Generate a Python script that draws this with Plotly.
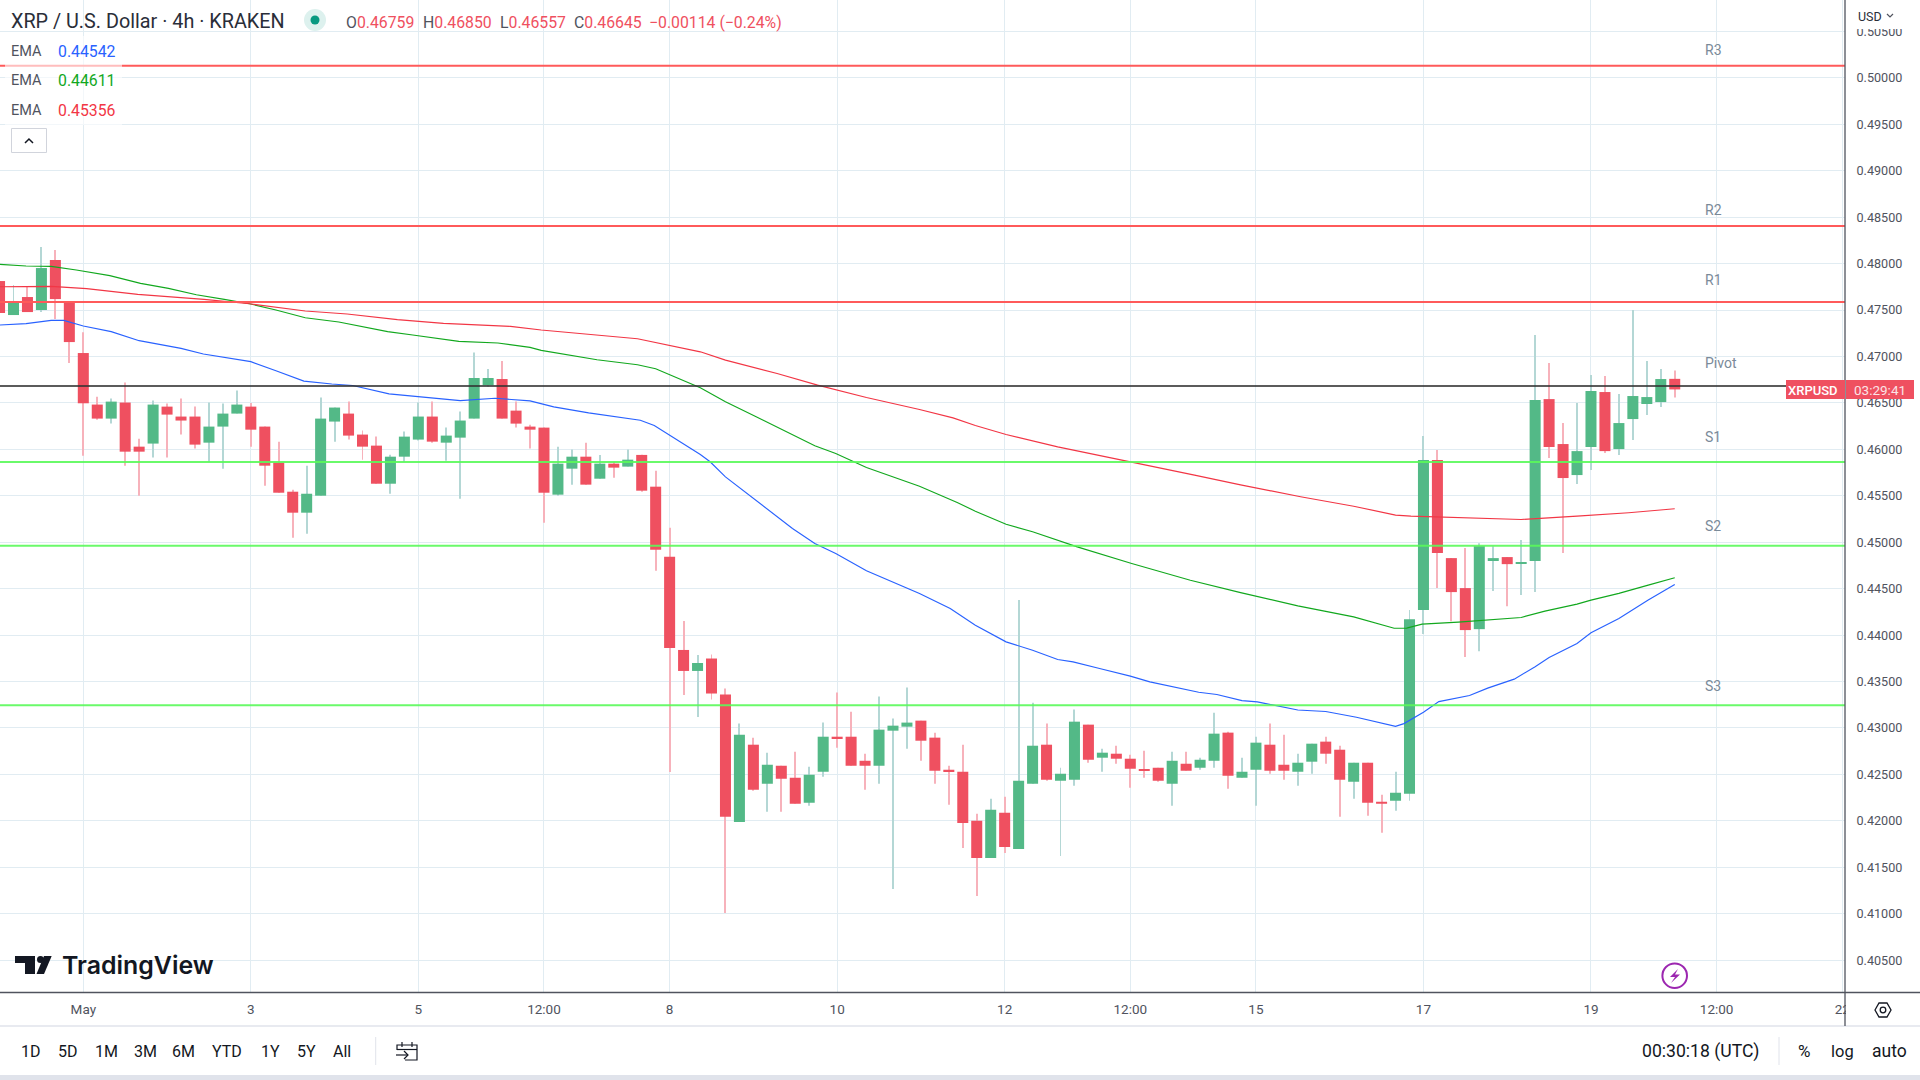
import plotly.graph_objects as go

# ---- data -----------------------------------------------------------------
first_bar = -6
opens = [.47812,.47446,.4764,.475,.48039,.47597,.47037,.46482,.46331,.46504,.46029,.46062,.4646,.46353,.46353,.46072,.46245,.46385,.4646,.46245,.45857,.45544,.45318,.45501,.46299,.46385,.46159,.4604,.4563,.45921,.46105,.46353,.46072,.46126,.46331,.46689,.46757,.46417,.46245,.46234,.45512,.45792,.45921,.45684,.45846,.45814,.4594,.45598,.44843,.4384,.43614,.43748,.4336,.41989,.4282,.42399,.42594,.42464,.42194,.42529,.42906,.42906,.42647,.42594,.42971,.43014,.43079,.42896,.4255,.42529,.42,.41601,.42086,.41698,.42399,.4282,.42432,.42442,.43036,.4268,.42723,.42669,.4255,.42572,.42399,.42615,.42572,.42647,.4295,.42464,.4255,.4282,.42604,.42529,.42637,.42853,.42766,.42421,.42626,.42205,.42216,.42291,.44269,.45884,.44829,.44506,.44064,.44808,.4484,.44775,.44797,.46541,.46057,.45723,.46025,.46617,.46003,.46326,.46488,.46509,.46759]
highs = [.47812,.47769,.47758,.48179,.48146,.47597,.4726,.46565,.46547,.46719,.46115,.46525,.46493,.46547,.4646,.46504,.46493,.46633,.465,.46245,.46083,.45566,.45824,.46558,.4645,.46514,.46202,.46137,.45943,.46191,.46504,.46514,.46234,.46407,.47044,.46865,.46951,.46514,.46266,.46234,.46029,.45998,.46072,.4594,.45867,.45998,.45943,.4577,.45156,.44153,.43787,.43791,.43424,.43047,.42896,.42734,.42594,.42745,.42583,.43058,.43381,.43176,.42723,.43338,.43101,.43435,.43079,.4295,.42594,.4282,.42076,.42237,.42259,.44377,.43273,.43047,.42572,.43198,.43036,.42777,.42809,.42712,.42755,.42572,.42745,.42745,.4268,.43165,.4296,.4268,.42906,.43047,.42928,.42723,.42831,.42906,.42809,.42626,.42626,.42281,.42529,.44269,.46143,.45992,.44829,.44937,.4499,.44958,.4484,.45023,.47231,.46929,.46283,.46498,.468,.46789,.46595,.475,.46951,.46865,.4685]
lows = [.47468,.47446,.47478,.47478,.47403,.46929,.45932,.4632,.46277,.45824,.45501,.45911,.45911,.46159,.46008,.45867,.45792,.46385,.46029,.45609,.45533,.45048,.45091,.45501,.46083,.46105,.45889,.4563,.45522,.45867,.46094,.46072,.45878,.45469,.46331,.46673,.46331,.46234,.46008,.4521,.45501,.4562,.4562,.45684,.45695,.45814,.45544,.44692,.42525,.43355,.43118,.43306,.41007,.41989,.42324,.42097,.42097,.42183,.42162,.42475,.42788,.42594,.42335,.42399,.41266,.42777,.42647,.42399,.42173,.41709,.41191,.41601,.41655,.41698,.42399,.42432,.41622,.42378,.42626,.42529,.42615,.42356,.42464,.42421,.42162,.4254,.4255,.42572,.42345,.42464,.42162,.42507,.42442,.42378,.42507,.42615,.42043,.42237,.42054,.41871,.42108,.42216,.44011,.44506,.4415,.43763,.43827,.44474,.44312,.44431,.44463,.45906,.44883,.45626,.45777,.4596,.45938,.461,.46369,.46455,.46557]
closes = [.47468,.47586,.47478,.47952,.47618,.47155,.46496,.46331,.46514,.45975,.45975,.46482,.46374,.4631,.46051,.46245,.46385,.46482,.46212,.45824,.45533,.45318,.45522,.46331,.4645,.46148,.46029,.4563,.45921,.46137,.46353,.46083,.46148,.4631,.46768,.46768,.46331,.46277,.46212,.45533,.45846,.45921,.4562,.45846,.45803,.45889,.45555,.44919,.43862,.43614,.437,.43371,.42043,.42928,.42335,.42604,.42453,.42183,.42496,.42906,.42885,.42594,.42594,.42982,.43025,.43058,.42863,.4254,.42529,.41978,.41601,.42119,.41719,.42432,.42809,.42442,.42507,.43068,.42658,.42734,.42669,.42561,.4254,.42432,.42647,.4254,.42658,.42939,.42486,.42529,.42842,.4254,.4254,.42626,.42831,.42723,.42442,.42626,.42194,.42183,.42302,.44172,.45884,.44883,.44463,.44054,.44958,.44829,.44764,.44786,.46531,.46025,.45691,.45981,.46628,.45981,.46283,.46574,.46563,.46757,.46645]

ema_blue_x = [-6,-4.1,-2.3,-1.4,0,2,4,7,8.6,12,13.8,15.8,17.8,19.3,21.9,27,29.5,32,33.7,36.2,39.9,40.9,44.2,44.9,46,48.2,50.8,52.4,53.9,56.1,59.9,62.1,63.9,66.1,68,69.8,70.9,72.8,75,76.4,79.9,81.2,83,84.1,87,89,91.2,94,94.6,96,97.1,99.3,100.6,102.5,104,105,107,108,110,112.1,114]
ema_blue_y = [.47338,.47353,.47389,.47389,.47328,.47267,.4717,.47087,.47026,.46944,.46847,.46735,.46703,.46687,.46597,.46525,.4655,.46522,.46457,.46392,.46313,.46256,.45945,.45866,.45704,.45453,.45148,.44986,.44878,.44692,.44448,.44286,.44106,.43927,.43837,.43737,.43712,.4364,.43558,.43496,.43385,.4336,.43295,.43281,.43194,.43177,.43115,.43018,.43047,.43169,.43284,.4335,.43429,.43526,.43659,.43759,.4391,.44025,.44179,.44377,.44545]
ema_green_x = [-6,-4.1,-2.3,-.5,1.9,4.1,6.1,8.1,10.1,11.9,13.8,15.9,18.3,21.8,23.6,26.9,29.7,32,32.8,36.8,39.7,41,44.2,46,48.2,50.8,52.4,53.9,56.1,59.9,62.6,63.9,66.1,68,71.2,75.1,79.3,82.9,87,91,93.9,94.8,95.9,98.5,103,104.7,107,108,110,112.1,114]
ema_green_y = [.47992,.47974,.4797,.47931,.4787,.47787,.47733,.47665,.47615,.47568,.475,.47417,.47371,.47267,.47231,.47163,.47145,.47098,.47066,.46965,.46911,.46868,.46663,.46512,.4635,.46153,.46038,.45955,.45805,.45603,.45428,.45334,.45194,.45112,.4495,.44771,.44591,.44458,.44315,.44196,.44074,.44075,.44118,.4414,.4419,.44258,.44334,.44377,.44449,.44538,.44617]
ema_red_x = [-6,-2.3,.24,3.9,8.65,11.9,15.9,18.9,22.5,25.8,30.6,32.8,39.7,44.2,46,49.7,52.6,56.1,59.9,62.3,63.9,66.1,69.8,75.1,77.1,79.6,82.9,87.2,91,94,95.1,99,103,107,110.7,114]
ema_red_y = [.47751,.47755,.4773,.47669,.47615,.47568,.47489,.47457,.47396,.47356,.47324,.47285,.47191,.4705,.46961,.46817,.46691,.46558,.46429,.46339,.46257,.4616,.46027,.45858,.45797,.45722,.45618,.4549,.45388,.45292,.45281,.4526,.45245,.45281,.45317,.4536]

pivot_names = ["R3","R2","R1","Pivot","S1","S2","S3"]
pivot_levels = [.5013,.48405,.47586,.46682,.45863,.44962,.43246]
pivot_label_y = [50,209.5,279.5,362.7,436.7,526,686]

date_ticks = [0,12,24,33,42,54,66,75,84,96,108,117,126]
date_labels = ["May","3","5","12:00","8","10","12","12:00","15","17","19","12:00","22"]
price_ticks = [.405,.41,.415,.42,.425,.43,.435,.44,.445,.45,.455,.46,.465,.47,.475,.48,.485,.49,.495,.5,.505]
price_labels = [f"{p:.5f}" for p in price_ticks]

ranges = ["1D","5D","1M","3M","6M","YTD","1Y","5Y","All"]
range_x = [21,58,95,134,172,212,261,297,333]
ema_labels = ["0.44542","0.44611","0.45356"]

# ---- styles ---------------------------------------------------------------
W, H = 1920, 1080
FIG_W = 1925
RED, GREEN = "#EF5060", "#53B987"
WICK_R, WICK_G = "#F7B2BB", "#B4D7D5"
AXIS = "#50535E"
GRID = "#E1ECF2"
FONT = "Roboto"
bars = [first_bar + k for k in range(len(opens))]
px = lambda x: x / W
py = lambda y: 1 - y / H

fig = go.Figure()
for want_up, wick, col in ((True, WICK_G, GREEN), (False, WICK_R, RED)):
    sel = [k for k in range(len(opens)) if (closes[k] >= opens[k]) == want_up]
    fig.add_trace(go.Bar(
        x=[bars[k] for k in sel],
        base=[lows[k] for k in sel],
        y=[highs[k] - lows[k] for k in sel],
        width=1 / 13.96, marker=dict(color=wick, line=dict(width=0)), hoverinfo="skip"))
for want_up, wick, col in ((True, WICK_G, GREEN), (False, WICK_R, RED)):
    sel = [k for k in range(len(opens)) if (closes[k] >= opens[k]) == want_up]
    fig.add_trace(go.Bar(
        x=[bars[k] for k in sel],
        base=[min(opens[k], closes[k]) for k in sel],
        y=[abs(closes[k] - opens[k]) for k in sel],
        width=0.79, marker=dict(color=col, line=dict(width=0)), hoverinfo="skip"))
for xs, ys, col in ((ema_blue_x, ema_blue_y, "#2962FF"),
                    (ema_green_x, ema_green_y, "#12A81E"),
                    (ema_red_x, ema_red_y, "#F23645")):
    fig.add_trace(go.Scatter(x=xs, y=ys, mode="lines", line=dict(color=col, width=1.15),
                             hoverinfo="skip"))

shapes = []
line_cols = ["#FF5A5A"] * 3 + ["rgba(50,50,50,0.8)"] + ["rgba(90,250,90,0.9)"] * 3
for lev, col in zip(pivot_levels, line_cols):
    shapes.append(dict(type="line", xref="x domain", x0=0, x1=1, yref="y", y0=lev, y1=lev,
                       line=dict(color=col, width=2), layer="above"))

def rect(x0, y0, x1, y1, fill=None, line=None, lw=1, op=1):
    shapes.append(dict(type="rect", xref="paper", yref="paper", x0=px(x0), x1=px(x1),
                       y0=py(y1), y1=py(y0), fillcolor=fill or "rgba(0,0,0,0)", opacity=op,
                       line=dict(color=line or "rgba(0,0,0,0)", width=lw if line else 0),
                       layer="above"))

def seg(x0, y0, x1, y1, col, lw=1):
    shapes.append(dict(type="line", xref="paper", yref="paper", x0=px(x0), x1=px(x1),
                       y0=py(y0), y1=py(y1), line=dict(color=col, width=lw), layer="above"))

def circ(cx, cy, r, fill=None, line=None, lw=1):
    shapes.append(dict(type="circle", xref="paper", yref="paper", x0=px(cx-r), x1=px(cx+r),
                       y0=py(cy+r), y1=py(cy-r), fillcolor=fill or "rgba(0,0,0,0)",
                       line=dict(color=line or "rgba(0,0,0,0)", width=lw if line else 0),
                       layer="above"))

def poly(pts, fill=None, line=None, lw=1, close=True):
    d = "M " + " L ".join(f"{px(a):.5f} {py(b):.5f}" for a, b in pts) + (" Z" if close else "")
    shapes.append(dict(type="path", xref="paper", yref="paper", path=d,
                       fillcolor=fill or "rgba(0,0,0,0)",
                       line=dict(color=line or "rgba(0,0,0,0)", width=lw if line else 0),
                       layer="above"))

# panels and frame
rect(5, 36, 122, 125, fill="white", op=0.6)
rect(1846, 0, W, 29, fill="white")
rect(1846, 993, W, 1026, fill="white")
rect(0, 1026, W, 1075, fill="white")
rect(0, 1075, W, H, fill="#E0E3EB")
seg(0, 1026, W, 1026, "#E0E3EB", 1.5)
seg(1845, 0, 1845, 1026, AXIS, 1.3)
seg(0, 992.5, W, 992.5, AXIS, 1.3)
seg(375.7, 1037, 375.7, 1065, "#E0E3EB", 1)
seg(1779, 1037, 1779, 1065, "#E0E3EB", 1)
# status dot
circ(315, 20, 11, fill="#DDF1EE")
circ(315, 20, 4.5, fill="#089981")
# collapse button
rect(11.5, 128.5, 46.5, 152.5, line="#D1D4DC", lw=1)
poly([(25, 143), (29, 139), (33, 143)], line="#131722", lw=1.5, close=False)
# USD chevron
poly([(1887, 14), (1890, 17), (1893, 14)], line="#50535E", lw=1.2, close=False)
# price label
rect(1786, 380, 1845, 399, fill="#EF5060")
rect(1846, 380, 1914, 399, fill="#EF5060")
# TradingView logo
poly([(15, 956), (35, 956), (35, 974), (25, 974), (25, 963), (15, 963)], fill="#131722")
circ(40.5, 959.5, 3.5, fill="#131722")
poly([(36.5, 974), (44, 956), (51.7, 956), (44, 974)], fill="#131722")
# lightning marker
circ(1674.7, 975.7, 12.3, line="#9C27B0", lw=2)
poly([(1678, 969), (1670, 977), (1675, 977), (1671, 983), (1680, 974.5), (1675, 974.5)], fill="#9C27B0")
# settings hexagon
poly([(1875, 1010), (1879, 1003), (1887, 1003), (1891, 1010), (1887, 1017), (1879, 1017)],
     line="#131722", lw=1.3)
circ(1883, 1010, 2.8, line="#131722", lw=1.3)
# calendar icon
poly([(397, 1050), (397, 1045), (417, 1045), (417, 1060), (405, 1060)], line="#131722", lw=1.2, close=False)
seg(397, 1049.5, 417, 1049.5, "#131722", 1.2)
seg(402, 1042, 402, 1047, "#131722", 1.2)
seg(412, 1042, 412, 1047, "#131722", 1.2)
poly([(396, 1055), (408, 1055)], line="#131722", lw=1.2, close=False)
poly([(404, 1051), (408, 1055), (404, 1059)], line="#131722", lw=1.2, close=False)

ann = []
def text(x, y, s, size=14, col="#131722", anchor="left", fam=FONT, weight=None):
    f = dict(size=size, color=col, family=fam)
    if weight:
        f["weight"] = weight
    ann.append(dict(x=px(x), y=py(y), xref="paper", yref="paper", text=s, showarrow=False,
                    xanchor=anchor, yanchor="middle", font=f, borderpad=0, borderwidth=0))

VAL = "#EF5060"
text(11, 21, "XRP / U.S. Dollar · 4h · KRAKEN", 19.8, "#2A2E39")
for xx, lab, val in ((346, "O", "0.46759"), (423, "H", "0.46850"), (500, "L", "0.46557"), (574, "C", "0.46645")):
    text(xx, 22, f"<span style='color:#50535E'>{lab}</span><span style='color:{VAL}'>{val}</span>", 15.8)
text(649, 22, "−0.00114 (−0.24%)", 15.8, VAL)
for yy, val, col in zip((51, 81, 111), ema_labels, ("#2962FF", "#12A81E", "#F23645")):
    text(11, yy, "EMA", 14.5, "#50535E")
    text(58, yy, val, 15.8, col)
for name, ly in zip(pivot_names, pivot_label_y):
    text(1705, ly, name, 14, "#7A8A99")
text(1858, 16, "USD", 12.5, "#2A2E39")
text(1788, 390, "XRPUSD", 13, "white", weight=500)
text(1880, 390, "03:29:41", 13.5, "#FBE3E6", anchor="center")
text(62, 965, "TradingView", 24.9, "#131722", fam="Inter", weight=600)
for xx, lab in zip(range_x, ranges):
    text(xx, 1051, lab, 16)
text(1642, 1051, "00:30:18 (UTC)", 17.6)
text(1804, 1051, "%", 17, anchor="center")
text(1842, 1051, "log", 16.5, anchor="center")
text(1889, 1051, "auto", 17.5, anchor="center")

fig.update_layout(
    width=FIG_W, height=H, margin=dict(l=0, r=0, t=0, b=0), paper_bgcolor="white", plot_bgcolor="white",
    showlegend=False, barmode="overlay", shapes=shapes, annotations=ann,
    font=dict(family=FONT),
    xaxis=dict(domain=[0, 1845 / W], range=[-83.3 / 13.96, (1845 - 83.3) / 13.96], tickmode="array",
               tickvals=date_ticks, ticktext=date_labels, showgrid=True, gridcolor=GRID, gridwidth=1,
               zeroline=False, showline=False, ticks="outside",
               ticklen=4, tickcolor="rgba(0,0,0,0)", tickfont=dict(size=13.5, color="#50535E", family=FONT),
               anchor="y"),
    yaxis=dict(domain=[1 - 992.5 / H, 1], range=[.40152, .50838], side="right", tickmode="array",
               tickvals=price_ticks, ticktext=price_labels, showgrid=True, gridcolor=GRID, gridwidth=1,
               zeroline=False, showline=False, ticks="outside", ticklen=8, tickcolor="rgba(0,0,0,0)",
               tickfont=dict(size=12.6, color="#50535E", family=FONT), anchor="x"),
)
fig.write_html("out.html", config=dict(displayModeBar=False),
               post_script="document.body.style.margin='0';document.body.style.overflow='hidden';")
